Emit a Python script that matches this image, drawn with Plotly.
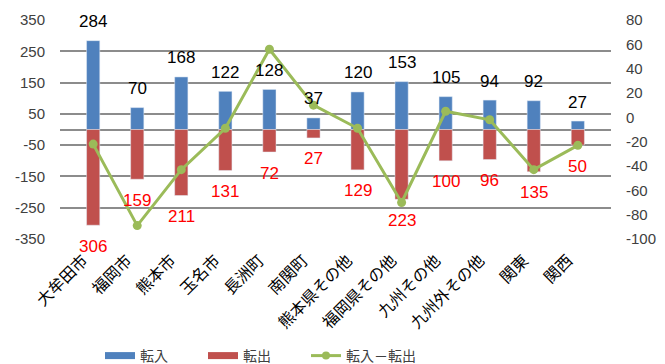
import plotly.graph_objects as go

categories = ["大牟田市", "福岡市", "熊本市", "玉名市", "長洲町", "南関町",
              "熊本県その他", "福岡県その他", "九州その他", "九州外その他", "関東", "関西"]
tennyu = [284, 70, 168, 122, 128, 37, 120, 153, 105, 94, 92, 27]
tenshutsu = [306, 159, 211, 131, 72, 27, 129, 223, 100, 96, 135, 50]
net = [-22, -89, -43, -9, 56, 10, -9, -70, 5, -2, -43, -23]

left_ticks = [350, 250, 150, 50, -50, -150, -250, -350]
right_ticks = [80, 60, 40, 20, 0, -20, -40, -60, -80, -100]

BLUE = "#4F81BD"
RED = "#C0504D"
GREEN = "#9BBB59"
num_font = "Liberation Sans"
jp_font = "Noto Sans CJK JP"

fig = go.Figure()
fig.add_trace(go.Bar(
    x=categories, y=tennyu, name="転入", marker_color=BLUE,
    width=0.3, showlegend=False,
))
fig.add_trace(go.Bar(
    x=categories, y=[-v for v in tenshutsu], name="転出", marker_color=RED,
    width=0.3, showlegend=False,
))
fig.add_trace(go.Scatter(
    x=categories, y=net, name="転入－転出", yaxis="y2", mode="lines+markers",
    line=dict(color=GREEN, width=3), marker=dict(color=GREEN, size=9),
    cliponaxis=False, showlegend=False,
))

# legend-only entries
fig.add_trace(go.Scatter(x=[None], y=[None], mode="lines", name="転入",
                         line=dict(color=BLUE, width=7)))
fig.add_trace(go.Scatter(x=[None], y=[None], mode="lines", name="転出",
                         line=dict(color=RED, width=7)))
fig.add_trace(go.Scatter(x=[None], y=[None], mode="lines+markers", name="転入－転出",
                         line=dict(color=GREEN, width=3), marker=dict(color=GREEN, size=8)))
fig.add_trace(go.Scatter(x=[None], y=[None], mode="lines", name=" ",
                         line=dict(color="rgba(0,0,0,0)", width=0)))

annotations = []
for c, v in zip(categories, tennyu):
    annotations.append(dict(x=c, y=v, xref="x", yref="y", text=str(v), showarrow=False,
                            yshift=19, font=dict(size=17, color="black", family=num_font)))
for c, v in zip(categories, tenshutsu):
    annotations.append(dict(x=c, y=-v, xref="x", yref="y", text=str(v), showarrow=False,
                            yshift=-21, font=dict(size=17, color="#FF0000", family=num_font)))

fig.update_layout(
    width=665, height=364,
    margin=dict(l=60, r=54, t=20, b=125, autoexpand=False),
    paper_bgcolor="white", plot_bgcolor="white",
    barmode="relative",
    font=dict(family=jp_font, color="#404040"),
    annotations=annotations,
    xaxis=dict(
        tickangle=-45, tickfont=dict(size=16, color="black", family=jp_font),
        showgrid=False, showline=False, ticks="", automargin=False,
        ticklabelstandoff=8, ticklabelshift=-10,
    ),
    yaxis=dict(
        range=[-350, 350], tickvals=left_ticks,
        ticktext=[str(v) for v in left_ticks],
        tickfont=dict(size=15, color="#404040", family=num_font),
        showgrid=True, gridcolor="#8C8C8C", gridwidth=1.5,
        zeroline=True, zerolinecolor="#8C8C8C", zerolinewidth=1.5,
        showline=False, ticks="", automargin=False, ticklabelstandoff=14,
    ),
    yaxis2=dict(
        range=[-100, 80], tickvals=right_ticks,
        ticktext=[str(v) for v in right_ticks],
        tickfont=dict(size=15, color="#404040", family=num_font),
        overlaying="y", side="right", showgrid=False, zeroline=False,
        showline=False, ticks="", automargin=False, ticklabelstandoff=14,
    ),
    legend=dict(
        orientation="h", xref="paper", yref="paper",
        x=(100 - 60) / 551, xanchor="left", y=(239 - 356) / 219, yanchor="middle",
        font=dict(size=14, color="#404040", family=jp_font),
        entrywidth=58, entrywidthmode="pixels", traceorder="normal",
        itemwidth=30,
    ),
    showlegend=True,
)

fig.write_html("out.html", config={"displayModeBar": False},
               post_script="document.body.style.margin='0';document.body.style.overflow='hidden';")
